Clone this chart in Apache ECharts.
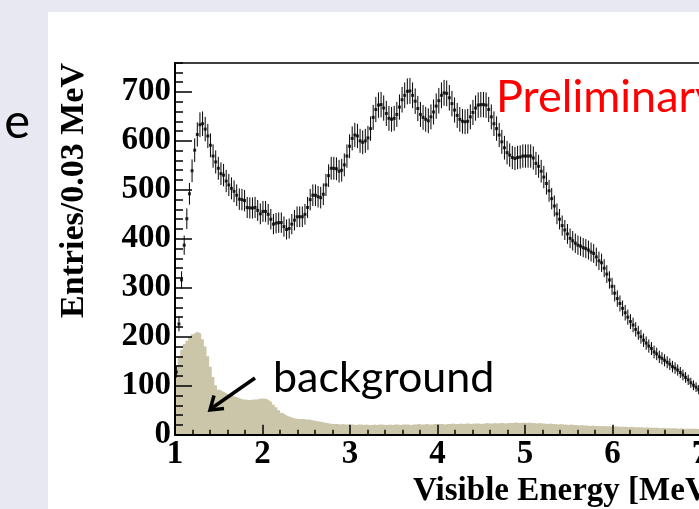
<!DOCTYPE html>
<html>
<head>
<meta charset="utf-8">
<script src="https://cdn.jsdelivr.net/npm/echarts@6/dist/echarts.min.js"></script>
<style>
html, body { margin: 0; padding: 0; background: #e8e8f3; }
#chart1 { width: 699px; height: 509px; }
</style>
</head>
<body>
<div id="chart1"></div>
<script>
// bins: 0.03 MeV wide, first bin starts at 1.0 MeV
var binStart = 1.0;
var binWidth = 0.03;

// data points (entries per bin)
var dataCounts = [
    128, 226, 316, 387, 441, 492, 539, 581, 613, 633,
    635, 624, 610, 591, 569, 557, 544, 533, 530, 518,
    510, 503, 497, 489, 481, 480, 478, 464, 463, 463,
    464, 458, 451, 456, 456, 450, 440, 430, 432, 433,
    433, 425, 419, 421, 430, 438, 445, 445, 445, 450,
    464, 480, 489, 489, 486, 484, 491, 510, 529, 544,
    544, 543, 538, 540, 551, 569, 589, 605, 612, 610,
    600, 597, 600, 606, 625, 648, 664, 673, 674, 667,
    656, 646, 644, 646, 654, 669, 684, 693, 701, 702,
    693, 681, 666, 654, 648, 644, 641, 649, 659, 671,
    682, 693, 698, 697, 688, 676, 663, 652, 644, 640,
    639, 640, 649, 658, 667, 673, 674, 674, 673, 664,
    649, 635, 625, 612, 598, 586, 576, 571, 566, 564,
    566, 567, 569, 569, 569, 569, 565, 554, 548, 538,
    526, 513, 498, 482, 467, 451, 440, 427, 418, 410,
    401, 396, 391, 387, 385, 382, 380, 377, 373, 370,
    363, 355, 351, 340, 328, 316, 303, 289, 278, 268,
    258, 249, 240, 231, 224, 215, 208, 200, 193, 187,
    181, 176, 169, 165, 159, 156, 152, 148, 144, 139,
    136, 132, 127, 122, 117, 112, 106, 101, 97, 92,
    88
];

// background histogram (entries per bin)
var bkgCounts = [
    142, 160, 174, 185, 192, 199, 205, 209, 209, 206,
    195, 180, 160, 139, 118, 101, 92, 89, 86, 83,
    81, 79, 78, 76, 74, 72, 72, 71, 71, 72,
    72, 73, 74, 74, 73, 70, 66, 61, 56, 50,
    45, 41, 38, 36, 34, 33, 32, 32, 32, 31,
    31, 30, 29, 28, 27, 26, 25, 24, 23, 22,
    22, 22, 21, 22, 21, 21, 21,
    21, 20, 21, 21, 20, 21, 20, 20, 21, 20, 21, 21, 20, 20, 21, 20, 21, 21, 20, 21, 21, 21, 20, 21, 21, 22, 21, 21, 22, 21, 21, 22, 22,
    22, 22, 21, 22, 22, 23, 22, 22, 23, 22, 23, 23, 22, 23, 23, 23, 22, 23, 24, 23, 23, 24, 23, 24, 24, 23, 24, 24, 24, 25, 24, 24, 25,
    24, 25, 24, 24, 23, 24, 23, 23, 22, 23, 22, 22, 21, 22, 21, 21, 20, 21, 20, 20, 19, 20, 19, 19, 18, 19, 18, 18, 17, 18, 17, 17, 17, 16,
    17, 16, 16, 16, 16, 15, 16, 15, 15, 15, 15, 14, 15, 14, 14, 14, 14, 13, 14, 13, 13, 13, 13, 13, 12, 13, 12, 12, 12, 12, 12, 12, 11,
    11, 11, 11, 10, 11, 10, 10, 10, 10, 9, 10, 9, 9, 9, 9, 9, 8, 9, 8, 8, 8, 8, 8, 8, 7, 8, 7, 7, 7, 7, 7, 7, 7
];

var xTicks = [1, 2, 3, 4, 5, 6, 7, 8];
var yTicks = [0, 100, 200, 300, 400, 500, 600, 700];

var pointData = [];
var errData = [];
for (var i = 0; i < dataCounts.length; i++) {
    var e = binStart + binWidth * (i + 0.5);
    var err = Math.sqrt(dataCounts[i]); // statistical error
    pointData.push([e, dataCounts[i]]);
    errData.push([e, dataCounts[i], dataCounts[i] - err, dataCounts[i] + err]);
}
var bkgData = [];
for (var j = 0; j < bkgCounts.length; j++) {
    bkgData.push([binStart + binWidth * j, bkgCounts[j]]);
}
bkgData.push([binStart + binWidth * bkgCounts.length, bkgCounts[bkgCounts.length - 1]]);

var serif = 'Liberation Serif';
var sans = 'Lato';

var chart1 = echarts.init(document.getElementById('chart1'));
var option = {
    animation: false,
    backgroundColor: '#e8e8f3',
    grid: {
        left: 175,
        top: 63,
        width: 612.5,
        height: 371.7,
        show: true,
        borderColor: '#000',
        borderWidth: 1.5,
        backgroundColor: 'transparent',
        containLabel: false,
        outerBoundsMode: 'none'
    },
    xAxis: {
        type: 'value',
        min: xTicks[0],
        max: xTicks[xTicks.length - 1],
        interval: 1,
        z: 10,
        axisLine: { lineStyle: { color: '#000', width: 2 } },
        axisTick: { inside: true, length: 10, lineStyle: { color: '#000', width: 1.5 } },
        minorTick: { show: true, splitNumber: 5, length: 5, lineStyle: { color: '#000', width: 1.5 } },
        splitLine: { show: false },
        minorSplitLine: { show: false },
        axisLabel: {
            color: '#000', fontFamily: serif, fontWeight: 'bold', fontSize: 33, margin: 3
        }
    },
    yAxis: [{
        type: 'value',
        min: 0,
        max: 759,
        interval: 100,
        z: 10,
        axisLine: { show: true, lineStyle: { color: '#000', width: 2 } },
        axisTick: { show: true, inside: true, length: 17, lineStyle: { color: '#000', width: 1.5 } },
        splitLine: { show: false },
        axisLabel: {
            color: '#000', fontFamily: serif, fontWeight: 'bold', fontSize: 33, margin: 4,
            showMaxLabel: false,
            formatter: function(v) {
                return yTicks.indexOf(v) >= 0 ? String(v) : '';
            }
        }
    }, {
        // minor ticks every 20
        type: 'value',
        min: 0,
        max: 759,
        interval: 20,
        position: 'left',
        z: 10,
        axisLine: { show: false },
        axisTick: { show: true, inside: true, length: 8, lineStyle: { color: '#000', width: 1.5 } },
        axisLabel: { show: false },
        splitLine: { show: false }
    }],
    series: [{
        name: 'background',
        type: 'line',
        step: 'end',
        data: bkgData,
        symbol: 'none',
        z: 1,
        lineStyle: { width: 0, color: '#cbc6a9' },
        itemStyle: { color: '#cbc6a9' },
        areaStyle: { color: '#cbc6a9', opacity: 1 }
    }, {
        name: 'errors',
        type: 'custom',
        data: errData,
        z: 3,
        encode: { x: 0, y: 1 },
        renderItem: function(params, api) {
            var lo = api.coord([api.value(0), api.value(2)]);
            var hi = api.coord([api.value(0), api.value(3)]);
            return {
                type: 'line',
                shape: { x1: lo[0], y1: lo[1], x2: hi[0], y2: hi[1] },
                style: { stroke: '#000', lineWidth: 1 }
            };
        }
    }, {
        name: 'data',
        type: 'scatter',
        data: pointData,
        symbol: 'rect',
        symbolSize: 3,
        z: 4,
        itemStyle: { color: '#000' }
    }],
    graphic: [{
        type: 'rect',
        z: -100,
        shape: { x: 48, y: 12, width: 700, height: 520 },
        style: { fill: '#ffffff' }
    }, {
        type: 'text',
        z: 100,
        x: 30,
        y: 122,
        style: { text: 'e', fontFamily: sans, fontSize: 49, fill: '#000', align: 'right', verticalAlign: 'middle' }
    }, {
        type: 'text',
        z: 100,
        x: 74,
        y: 63,
        rotation: Math.PI / 2,
        style: {
            text: 'Entries/0.03 MeV', fontFamily: serif, fontWeight: 'bold', fontSize: 34,
            fill: '#000', align: 'right', verticalAlign: 'middle'
        }
    }, {
        type: 'text',
        z: 100,
        x: 413,
        y: 491.5,
        style: {
            text: 'Visible Energy [MeV]', fontFamily: serif, fontWeight: 'bold', fontSize: 33,
            fill: '#000', align: 'left', verticalAlign: 'middle'
        }
    }, {
        type: 'text',
        z: 100,
        x: 496,
        y: 97,
        style: { text: 'Preliminary', fontFamily: sans, fontSize: 45, fill: '#ff0000', align: 'left', verticalAlign: 'middle' }
    }, {
        type: 'text',
        z: 100,
        x: 273,
        y: 378,
        style: { text: 'background', fontFamily: sans, fontSize: 43, fill: '#000', align: 'left', verticalAlign: 'middle' }
    }, {
        type: 'line',
        z: 100,
        shape: { x1: 255, y1: 378, x2: 212, y2: 408 },
        style: { stroke: '#000', lineWidth: 3.5 }
    }, {
        type: 'polyline',
        z: 100,
        shape: { points: [[224, 408.5], [210, 410], [214, 395.5]] },
        style: { stroke: '#000', lineWidth: 3.5, fill: null, lineJoin: 'miter' }
    }]
};
chart1.setOption(option);
</script>
</body>
</html>
